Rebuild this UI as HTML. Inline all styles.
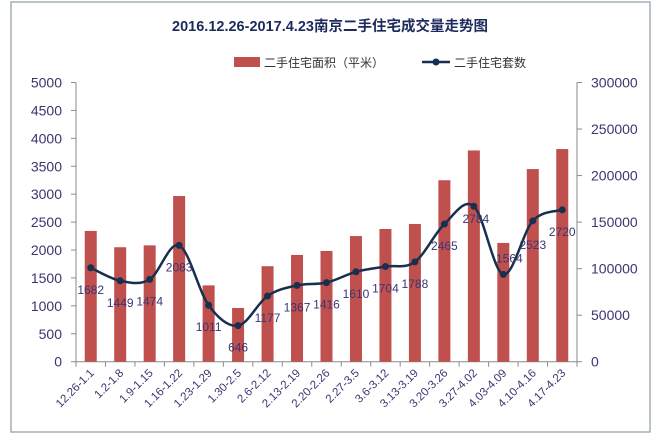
<!DOCTYPE html>
<html><head><meta charset="utf-8"><style>
body{margin:0;background:#fff;}
svg{display:block;font-family:"Liberation Sans","Noto Sans CJK SC",sans-serif;}
</style></head><body>
<svg id="c" width="659" height="437">
<rect x="11" y="2" width="639" height="430" fill="#fff" stroke="#8a9ba3" stroke-width="1.2"/>
<text x="330" y="31" text-anchor="middle" font-size="14.5" font-weight="bold" fill="#1f2a5c">2016.12.26-2017.4.23南京二手住宅成交量走势图</text>
<g>
<rect x="234" y="57" width="26" height="10" fill="#c0504d"/>
<text x="264" y="67" font-size="12" fill="#333">二手住宅面积（平米）</text>
<line x1="422" y1="62" x2="450" y2="62" stroke="#17304f" stroke-width="2.5"/>
<circle cx="436" cy="62" r="3.5" fill="#17304f"/>
<text x="454" y="67" font-size="12" fill="#333">二手住宅套数</text>
</g>
<g id="g"></g>
</svg>
<script>
const categories=["12.26-1.1","1.2-1.8","1.9-1.15","1.16-1.22","1.23-1.29","1.30-2.5","2.6-2.12","2.13-2.19","2.20-2.26","2.27-3.5","3.6-3.12","3.13-3.19","3.20-3.26","3.27-4.02","4.03-4.09","4.10-4.16","4.17-4.23"];
const areaValues=[140500,123000,125000,178000,82000,57700,102600,114700,119000,135000,142600,148000,195000,227000,127600,207000,228500];
const countValues=[1682,1449,1474,2083,1011,646,1177,1367,1416,1610,1704,1788,2465,2784,1564,2523,2720];
const leftTicks=[0,500,1000,1500,2000,2500,3000,3500,4000,4500,5000];
const rightTicks=[0,50000,100000,150000,200000,250000,300000];
const X0=76,X1=577,Y0=361.7,Y1=82.5;
const n=categories.length,step=(X1-X0)/n;
const xc=i=>X0+step*(i+0.5);
const yL=v=>Y0-(v/5000)*(Y0-Y1);
const yR=v=>Y0-(v/300000)*(Y0-Y1);
const g=document.getElementById('g');
const NS="http://www.w3.org/2000/svg";
function mk(t,a,txt){const e=document.createElementNS(NS,t);for(const k in a)e.setAttribute(k,a[k]);if(txt!==undefined)e.textContent=txt;g.appendChild(e);return e;}
const axc="#8a8a8a",tc="#3a3670";
// axes
let e=mk('line',{x1:X0,y1:Y1,x2:X0,y2:Y0,stroke:axc});

e=mk('line',{x1:X1,y1:Y1,x2:X1,y2:Y0,stroke:axc});

e=mk('line',{x1:X0,y1:Y0,x2:X1,y2:Y0,stroke:axc});

leftTicks.forEach(v=>{const y=yL(v);
 mk('line',{x1:X0-5,y1:y,x2:X0,y2:y,stroke:axc});
 e=mk('text',{x:X0-14,y:y+5,'text-anchor':'end','font-size':14,fill:tc},String(v));
 });
rightTicks.forEach(v=>{const y=yR(v);
 mk('line',{x1:X1,y1:y,x2:X1+5,y2:y,stroke:axc});
 e=mk('text',{x:X1+14,y:y+5,'font-size':14,fill:tc},String(v));
 });
for(let i=0;i<=n;i++){const x=X0+step*i;mk('line',{x1:x,y1:Y0,x2:x,y2:Y0+5,stroke:axc});}
// bars
areaValues.forEach((v,i)=>{const w=12,y=yR(v);
 e=mk('rect',{x:xc(i)-w/2,y:y,width:w,height:Y0-y,fill:"#c0504d"});
 });
// x labels
categories.forEach((c,i)=>{const x=xc(i)+4,y=Y0+12;
 e=mk('text',{x:x,y:y,'text-anchor':'end','font-size':11.5,fill:tc,transform:`rotate(-45 ${x} ${y})`},c);
 });
// smooth line
const pts=countValues.map((v,i)=>[xc(i),yL(v)]);
let d=`M${pts[0][0]},${pts[0][1]}`;
for(let i=0;i<pts.length-1;i++){const p0=pts[Math.max(i-1,0)],p1=pts[i],p2=pts[i+1],p3=pts[Math.min(i+2,pts.length-1)];
 const t=1/6;d+=` C${p1[0]+(p2[0]-p0[0])*t},${p1[1]+(p2[1]-p0[1])*t} ${p2[0]-(p3[0]-p1[0])*t},${p2[1]-(p3[1]-p1[1])*t} ${p2[0]},${p2[1]}`;}
e=mk('path',{d:d,fill:'none',stroke:'#17304f','stroke-width':2.5});

pts.forEach((p,i)=>{e=mk('circle',{cx:p[0],cy:p[1],r:3.5,fill:'#17304f'});
 });
countValues.forEach((v,i)=>{const p=pts[i];let dy=26,dx=0;
 if(i===13){dy=17;dx=2;} if(i===14){dy=-12;dx=6;} if(i===15){dy=28;dx=0;}
 e=mk('text',{x:p[0]+dx,y:p[1]+dy,'text-anchor':'middle','font-size':12,fill:'#3a3670'},String(v));
 });
</script>
</body></html>
